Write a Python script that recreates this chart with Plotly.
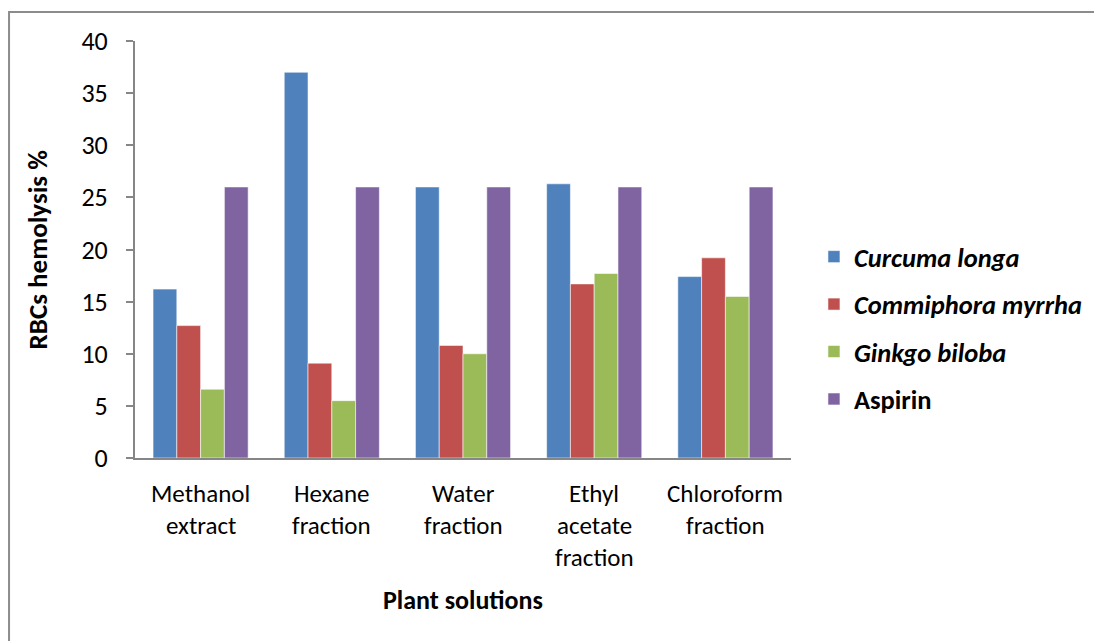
import plotly.graph_objects as go

categories = ["Methanol extract", "Hexane fraction", "Water fraction",
              "Ethyl acetate fraction", "Chloroform fraction"]
category_lines = [["Methanol", "extract"], ["Hexane", "fraction"], ["Water", "fraction"],
                  ["Ethyl", "acetate", "fraction"], ["Chloroform", "fraction"]]
curcuma = [16.2, 37.0, 26.0, 26.3, 17.4]
commiphora = [12.7, 9.1, 10.8, 16.7, 19.2]
ginkgo = [6.6, 5.5, 10.0, 17.7, 15.5]
aspirin = [26.0, 26.0, 26.0, 26.0, 26.0]
y_ticks = [0, 5, 10, 15, 20, 25, 30, 35, 40]

series = [
    ("<b><i>Curcuma longa</i></b>", curcuma, "#4F81BD"),
    ("<b><i>Commiphora myrrha</i></b>", commiphora, "#C0504D"),
    ("<b><i>Ginkgo biloba</i></b>", ginkgo, "#9BBB59"),
    ("<b>Aspirin</b>", aspirin, "#8064A2"),
]

FONT = "Carlito, Lato, sans-serif"
FS = 25
FS_BOLD = 26

fig = go.Figure()
for i, (name, vals, col) in enumerate(series):
    fig.add_trace(go.Bar(
        x=categories, y=vals, name=name, legendgroup=f"g{i}",
        marker=dict(color=col, line=dict(color="rgba(255,255,255,0.55)", width=1)),
    ))

annotations = []
for cat, lines in zip(categories, category_lines):
    for j, line in enumerate(lines):
        annotations.append(dict(
            x=cat, xref="x", y=0, yref="paper", yshift=-35 - 32 * j,
            text=line, showarrow=False, yanchor="middle", xanchor="center",
            font=dict(family=FONT, size=FS, color="#000000"),
        ))
annotations.append(dict(
    x=0.5, xref="paper", y=-0.34, yref="paper", text="<b>Plant solutions</b>",
    showarrow=False, yanchor="middle", font=dict(family=FONT, size=FS_BOLD, color="#000000"),
))
annotations.append(dict(
    x=-0.148, xref="paper", y=0.5, yref="paper", text="<b>RBCs hemolysis %</b>",
    showarrow=False, textangle=-90, xanchor="center", yanchor="middle",
    font=dict(family=FONT, size=FS_BOLD + 1, color="#000000"),
))

fig.update_layout(
    width=1102, height=641,
    margin=dict(l=127, r=319, t=33, b=191),
    paper_bgcolor="white", plot_bgcolor="white",
    barmode="group", bargap=0.275, bargroupgap=0,
    font=dict(family=FONT, size=FS, color="#000000"),
    showlegend=True,
    legend=dict(x=1.035, xanchor="left", y=0.312, yanchor="middle",
                tracegroupgap=10, font=dict(family=FONT, size=FS_BOLD + 0.5),
                itemwidth=30),
    annotations=annotations,
    shapes=[dict(type="path", xref="paper", yref="paper",
                 path="M -0.192,-0.6 L -0.192,1.0695 L 1.6,1.0695",
                 line=dict(color="#8C8C8C", width=2))],
)
fig.update_xaxes(showticklabels=False, showline=True, linecolor="#868686", linewidth=2,
                 ticks="", showgrid=False, zeroline=False)
fig.update_yaxes(range=[0, 40], tickvals=y_ticks, showline=True, linecolor="#868686",
                 linewidth=2, ticks="outside", ticklen=7, tickcolor="#868686", tickwidth=2,
                 ticklabelstandoff=13, showgrid=False, zeroline=False,
                 tickfont=dict(family=FONT, size=FS + 1, color="#000000"))

fig.write_html("out.html")
